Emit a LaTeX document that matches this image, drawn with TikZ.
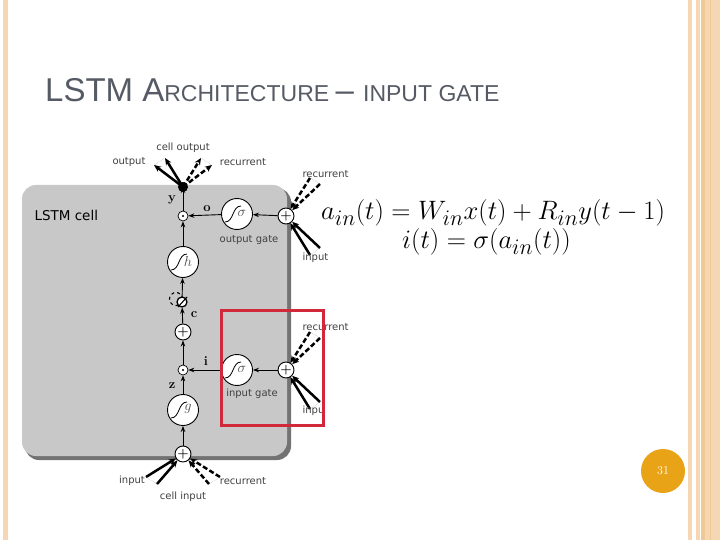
\documentclass[tikz,border=0pt]{standalone}
\usepackage{fontspec}
\setsansfont{DejaVu Sans}
\newfontfamily\titlefont{Liberation Sans}
\usetikzlibrary{arrows.meta}
\definecolor{cellgray}{RGB}{200,200,200}
\definecolor{shadowgray}{RGB}{115,115,115}
\definecolor{boxred}{RGB}{210,40,60}
\definecolor{stripe}{RGB}{245,215,180}
\definecolor{stripedark}{RGB}{240,200,150}
\definecolor{titlegray}{RGB}{85,90,100}
\definecolor{gold}{RGB}{232,163,23}
\begin{document}
\begin{tikzpicture}[x=1pt,y=-1pt,
  lbl/.style={font=\sffamily\fontsize{10}{10}\selectfont, text=black!75},
  var/.style={font=\bfseries\fontsize{13}{13}\selectfont},
  act/.style={circle,draw,fill=white,minimum size=31pt,inner sep=0pt, line width=0.9pt},
  plusn/.style={circle,draw,fill=white,minimum size=16pt,inner sep=0pt,line width=0.9pt,font=\bfseries\fontsize{13}{13}\selectfont},
  odot/.style={circle,draw,fill=white,minimum size=10pt,inner sep=0pt,line width=0.7pt},
  arr/.style={-{Stealth[length=6pt,width=4.5pt]},line width=0.9pt},
  sarr/.style={-{Stealth[length=7pt,width=6pt]},line width=2.5pt},
  darr/.style={-{Stealth[length=7pt,width=6pt]},line width=2.5pt,dash pattern=on 5pt off 2.5pt}]
\useasboundingbox (0,0) rectangle (720,540);
\fill[white] (0,0) rectangle (720,540);
% border stripes
\fill[stripe] (3,0) rectangle (8,540);
\fill[stripe] (688,0) rectangle (692,540);
\fill[stripe] (696,0) rectangle (700,540);
\fill[stripedark] (701,0) rectangle (705,540);
\fill[stripe] (705,0) rectangle (720,540);
\draw[stripedark] (710,0) -- (710,540);
% title
\node[anchor=base west,text=titlegray,inner sep=0pt] (title) at (45,102)
 {\titlefont\fontsize{33}{33}\selectfont LSTM A\fontsize{23}{23}\selectfont RCHITECTURE \fontsize{33}{33}\selectfont – \fontsize{23}{23}\selectfont INPUT GATE};
% cell
\fill[shadowgray,rounded corners=14pt] (25,188) rectangle (291,460);
\fill[cellgray,rounded corners=14pt] (22,185) rectangle (287,456);
\node[font=\sffamily\fontsize{13.5}{14}\selectfont,anchor=west] (celllbl) at (31,215) {LSTM cell};
% nodes
\fill (183,187) circle (5pt);
\coordinate (dot) at (183,187);
\node[odot] (oy) at (183,216) {};
\fill (183,216) circle (1.2pt);
\node[act] (h) at (183,262) {};
\node[plusn] (pc) at (183,332) {+};
\node[odot] (oz) at (183,370) {};
\fill (183,370) circle (1.2pt);
\node[act] (g) at (183,410) {};
\node[plusn] (pin) at (183,454) {+};
\node[act] (so) at (237,214) {};
\node[plusn] (po) at (286,216) {+};
\node[act] (si) at (237,370) {};
\node[plusn] (pi) at (286,370) {+};
% sigmoid glyphs
\foreach \n/\s in {h/h,g/g,so/\sigma,si/\sigma}{
  \draw[line width=0.8pt] ([xshift=-12pt,yshift=-8pt]\n.center) .. controls ([xshift=-3pt,yshift=-8pt]\n.center) and ([xshift=-5pt,yshift=8pt]\n.center) .. ([xshift=4pt,yshift=8pt]\n.center);
  \node[font=\fontsize{14}{14}\selectfont,text=black!70] at ([xshift=5pt,yshift=1pt]\n.center) {$\s$};
}
% peephole symbol
\draw[line width=1.1pt,dashed] (176,299) circle (6.5pt);
\node[circle,draw,fill=white,line width=1.3pt,minimum size=10pt,inner sep=0pt] (peep) at (182,302) {};
\draw[line width=1.1pt] (178,307) -- (187,297);
% internal arrows
\draw[arr] (po) -- (so);
\draw[arr] (so) -- (oy);
\draw[arr] (oy) -- (dot);
\draw[arr] (h) -- (oy);
\draw[arr] (peep) -- (h);
\draw[arr] (pc) -- (peep);
\draw[arr] (oz) -- (pc);
\draw[arr] (pi) -- (si);
\draw[arr] (si) -- (oz);
\draw[arr] (g) -- (oz);
\draw[arr] (pin) -- (g);
% variable labels
\node[var] (ly) at (172,200) {y};
\node[var] (lo) at (207,209) {o};
\node[var] (lc) at (194,315) {c};
\node[var] (li) at (206,361) {i};
\node[var] (lz) at (172,386) {z};
\node[lbl] (og) at (249,240) {output gate};
\node[lbl] (ig) at (252,394) {input gate};
% external inputs: output gate
\coordinate (a1) at (320,248); \coordinate (a2) at (310,255);
\coordinate (a3) at (320,184); \coordinate (a4) at (310,178);
\draw[sarr] (a1) -- (po); \draw[sarr] (a2) -- (po);
\draw[darr] (a3) -- (po); \draw[darr] (a4) -- (po);
\draw[densely dotted,black!40] (a1) -- (a2); \draw[densely dotted,black!40] (a3) -- (a4);
\node[lbl,anchor=west] (r1) at (299,174) {recurrent};
\node[lbl,anchor=west] (in1) at (299,258) {input};
% external inputs: input gate
\coordinate (b1) at (320,402); \coordinate (b2) at (310,409);
\coordinate (b3) at (320,338); \coordinate (b4) at (310,332);
\draw[sarr] (b1) -- (pi); \draw[sarr] (b2) -- (pi);
\draw[darr] (b3) -- (pi); \draw[darr] (b4) -- (pi);
\draw[densely dotted,black!40] (b1) -- (b2); \draw[densely dotted,black!40] (b3) -- (b4);
\node[lbl,anchor=west] (r2) at (299,327) {recurrent};
\node[lbl,anchor=west] (in2) at (299,411) {inpu};
% cell input
\coordinate (c1) at (146,477); \coordinate (c2) at (157,484);
\coordinate (c3) at (220,477); \coordinate (c4) at (209,484);
\draw[sarr] (c1) -- (pin); \draw[sarr] (c2) -- (pin);
\draw[darr] (c3) -- (pin); \draw[darr] (c4) -- (pin);
\draw[densely dotted,black!40] (c1) -- (c2); \draw[densely dotted,black!40] (c3) -- (c4);
\node[lbl] (ci1) at (132,481) {input};
\node[lbl] (cr1) at (243,481) {recurrent};
\node[lbl] (cil) at (183,497) {cell input};
% cell output
\coordinate (d1) at (154,165); \coordinate (d2) at (165,158);
\coordinate (d3) at (212,165); \coordinate (d4) at (201,158);
\draw[sarr] (dot) -- (d1); \draw[sarr] (dot) -- (d2);
\draw[darr] (dot) -- (d3); \draw[darr] (dot) -- (d4);
\draw[densely dotted,black!40] (d1) -- (d2); \draw[densely dotted,black!40] (d3) -- (d4);
\node[lbl] (ol) at (129,162) {output};
\node[lbl] (col) at (183,148) {cell output};
\node[lbl] (rl) at (243,162) {recurrent};
% red box
\draw[boxred,line width=3pt] (221,310) rectangle (323,425) node[coordinate] (redbox) {};
% equations
\node[anchor=west,inner sep=0pt,scale=1.07,font=\fontsize{24.88}{27}\selectfont] (eq1) at (321,213) {$a_{in}(t) = W_{in}x(t) + R_{in}y(t-1)$};
\node[anchor=west,inner sep=0pt,scale=1.07,font=\fontsize{24.88}{27}\selectfont] (eq2) at (402,242) {$i(t) = \sigma\bigl(a_{in}(t)\bigr)$};
% page number
\node[circle,fill=gold,minimum size=44pt,inner sep=0pt,text=white,font=\fontsize{12}{12}\selectfont] (pg) at (663,471) {31};
\end{tikzpicture}
\end{document}
